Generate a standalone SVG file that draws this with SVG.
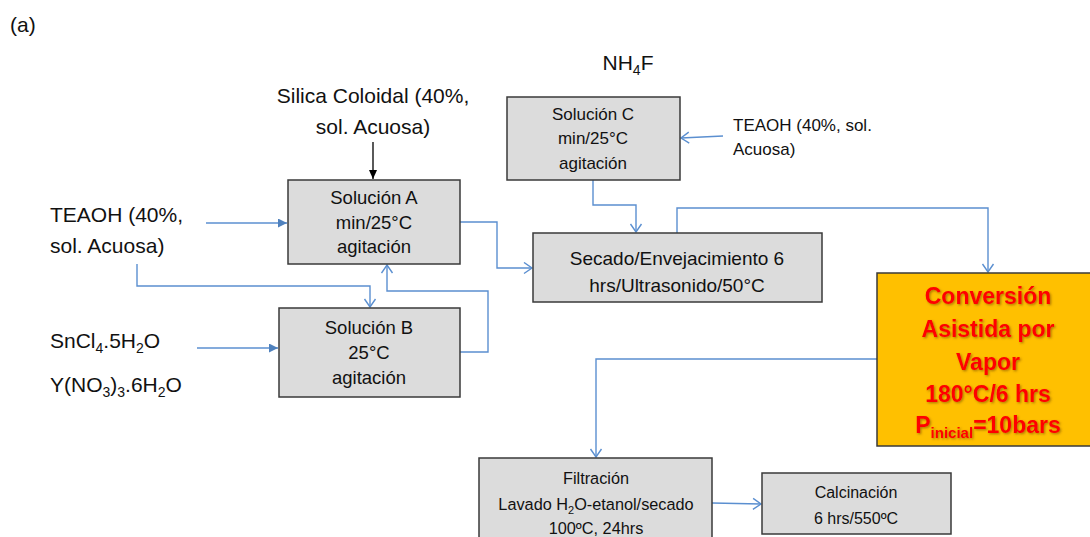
<svg xmlns="http://www.w3.org/2000/svg" width="1090" height="537" viewBox="0 0 1090 537">
<style>
.box{fill:#dcdcdc;stroke:#3a3a3a;stroke-width:1.5}
.obox{fill:#ffc000;stroke:#3a3a3a;stroke-width:1.5}
.t{font-family:"Liberation Sans",Arial,sans-serif;fill:#111}
.c{text-anchor:middle}
.big{font-size:21px}
.red{font-family:"Liberation Sans",Arial,sans-serif;font-weight:bold;font-size:23px;fill:#ff0000;text-anchor:middle}
.ln{fill:none;stroke:#5b8fd0;stroke-width:1.4}
</style>
<defs>
<marker id="op" markerUnits="userSpaceOnUse" markerWidth="12" markerHeight="14" refX="9" refY="6.5" orient="auto">
<path d="M1,1 L9,6.5 L1,12" fill="none" stroke="#5b8fd0" stroke-width="1.4"/>
</marker>
<marker id="fb" markerUnits="userSpaceOnUse" markerWidth="10" markerHeight="10" refX="9" refY="4.5" orient="auto">
<path d="M0,0 L9,4.5 L0,9 Z" fill="#4f81bd"/>
</marker>
<marker id="fk" markerUnits="userSpaceOnUse" markerWidth="10" markerHeight="10" refX="9" refY="4" orient="auto">
<path d="M0,0 L9,4 L0,8 Z" fill="#000"/>
</marker>
<filter id="sh" x="-10%" y="-10%" width="120%" height="130%">
<feDropShadow dx="1.2" dy="1.2" stdDeviation="0.8" flood-color="#6b3a00" flood-opacity="0.55"/>
</filter>
</defs>

<text class="t" x="10" y="32" font-size="21">(a)</text>

<g id="labels">
<text class="t big c" x="373" y="103">Silica Coloidal (40%,</text>
<text class="t big c" x="373" y="134">sol. Acuosa)</text>
<text class="t big c" x="628" y="70">NH<tspan font-size="14" dy="5">4</tspan><tspan dy="-5">F</tspan></text>
<text class="t" x="733" y="131" font-size="17">TEAOH (40%, sol.</text>
<text class="t" x="733" y="155" font-size="17">Acuosa)</text>
<text class="t big" x="50" y="222">TEAOH (40%,</text>
<text class="t big" x="50" y="253">sol. Acuosa)</text>
<text class="t big" x="50" y="348">SnCl<tspan font-size="14" dy="5">4</tspan><tspan dy="-5">.5H</tspan><tspan font-size="14" dy="5">2</tspan><tspan dy="-5">O</tspan></text>
<text class="t big" x="50" y="392">Y(NO<tspan font-size="14" dy="5">3</tspan><tspan dy="-5">)</tspan><tspan font-size="14" dy="5">3</tspan><tspan dy="-5">.6H</tspan><tspan font-size="14" dy="5">2</tspan><tspan dy="-5">O</tspan></text>
</g>

<g id="connectors">
<line x1="373" y1="142" x2="373" y2="179" stroke="#000" stroke-width="1.3" marker-end="url(#fk)"/>
<line class="ln" x1="206" y1="223" x2="287" y2="223" marker-end="url(#fb)"/>
<line class="ln" x1="197" y1="348" x2="278" y2="348" marker-end="url(#fb)"/>
<path class="ln" d="M137,264 V286 H370 V307" marker-end="url(#op)"/>
<path class="ln" d="M460,352 H488 V291 H387 V265" marker-end="url(#op)"/>
<path class="ln" d="M460,222 H497 V268 H532" marker-end="url(#op)"/>
<path class="ln" d="M593,180 V205 H636 V232" marker-end="url(#op)"/>
<path class="ln" d="M677,233 V208 H988 V272" marker-end="url(#op)"/>
<line class="ln" x1="723" y1="136" x2="681" y2="138" marker-end="url(#op)"/>
<path class="ln" d="M877,359 H596 V457" marker-end="url(#op)"/>
<line class="ln" x1="712" y1="503" x2="761" y2="504" marker-end="url(#op)"/>
</g>

<g id="solA">
<rect class="box" x="288" y="180" width="172" height="84"/>
<text class="t c" x="374" y="204" font-size="18.5">Solución A</text>
<text class="t c" x="374" y="229" font-size="18.5">min/25°C</text>
<text class="t c" x="374" y="253" font-size="18.5">agitación</text>
</g>

<g id="solB">
<rect class="box" x="279" y="308" width="181" height="89"/>
<text class="t c" x="369" y="334" font-size="18.5">Solución B</text>
<text class="t c" x="369" y="359" font-size="18.5">25°C</text>
<text class="t c" x="369" y="384" font-size="18.5">agitación</text>
</g>

<g id="solC">
<rect class="box" x="507" y="97" width="173" height="83"/>
<text class="t c" x="593" y="120" font-size="17">Solución C</text>
<text class="t c" x="593" y="144" font-size="17">min/25°C</text>
<text class="t c" x="593" y="169" font-size="17">agitación</text>
</g>

<g id="secado">
<rect class="box" x="533" y="233" width="289" height="69"/>
<text class="t c" x="677" y="265" font-size="19">Secado/Envejacimiento 6</text>
<text class="t c" x="677" y="292" font-size="19">hrs/Ultrasonido/50°C</text>
</g>

<g id="conversion">
<rect class="obox" x="877" y="273" width="214" height="173"/>
<g filter="url(#sh)">
<text class="red" x="988" y="304">Conversión</text>
<text class="red" x="988" y="337">Asistida por</text>
<text class="red" x="988" y="370">Vapor</text>
<text class="red" x="988" y="402">180°C/6 hrs</text>
<text class="red" x="988" y="433">P<tspan font-size="15" dy="5">inicial</tspan><tspan dy="-5">=10bars</tspan></text>
</g>
</g>

<g id="filtracion">
<rect class="box" x="479" y="458" width="233" height="90"/>
<text class="t c" x="596" y="484" font-size="16.3">Filtración</text>
<text class="t c" x="596" y="510" font-size="16.3">Lavado H<tspan font-size="11" dy="4">2</tspan><tspan dy="-4">O-etanol/secado</tspan></text>
<text class="t c" x="596" y="534" font-size="16.3">100ºC, 24hrs</text>
</g>

<g id="calcinacion">
<rect class="box" x="762" y="473" width="189" height="61"/>
<text class="t c" x="856" y="498" font-size="16">Calcinación</text>
<text class="t c" x="856" y="524" font-size="16">6 hrs/550ºC</text>
</g>
</svg>
